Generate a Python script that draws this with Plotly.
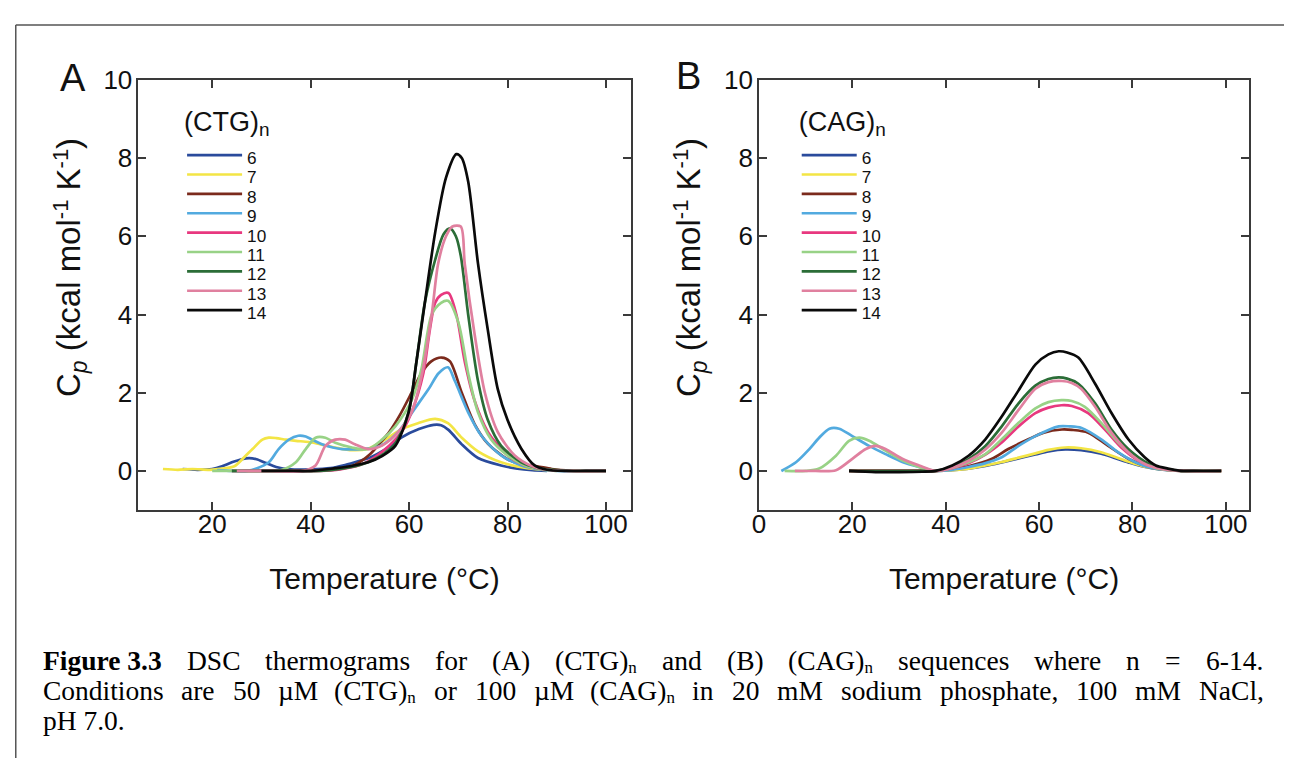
import plotly.graph_objects as go

SANS = "Liberation Sans, Arial, Helvetica, sans-serif"
SERIF = "Liberation Serif, Times New Roman, serif"

PAGE_W, PAGE_H = 1292, 758
OFF = 8                      # default page margin of the html body
W, H = PAGE_W - OFF, PAGE_H - OFF

# ---------------- data ----------------
repeat_n = ["6", "7", "8", "9", "10", "11", "12", "13", "14"]
line_colors = ["#2a4b9c", "#f3e545", "#7b2a1c", "#52aadf", "#e8387f",
               "#98d286", "#2b6d37", "#e0809f", "#0a0a0a"]

# Panel A: (CTG)n, temperature (°C) and Cp (kcal mol-1 K-1)
ctg6_T = [14, 17, 20, 22, 24, 26, 27.5, 29, 31, 33, 36, 40, 44, 47, 50, 52, 55, 58.5, 62, 65, 66.5, 68, 70.7, 74, 78.7, 82, 85, 88]
ctg6_cp = [0.05, 0.03, 0.05, 0.12, 0.22, 0.3, 0.33, 0.3, 0.2, 0.1, 0.04, 0.04, 0.07, 0.15, 0.26, 0.34, 0.54, 0.86, 1.07, 1.18, 1.17, 1.05, 0.68, 0.33, 0.14, 0.06, 0.02, 0.0]
ctg7_T = [10, 13, 16, 19.5, 22, 24.5, 26.5, 28.2, 30.2, 31.5, 33, 35, 37, 39.6, 42, 45, 48.4, 51.7, 55.1, 58.5, 61.8, 65.3, 67.9, 70.7, 74, 78.7, 84, 90]
ctg7_cp = [0.05, 0.03, 0.05, 0.03, 0.06, 0.12, 0.35, 0.56, 0.8, 0.85, 0.84, 0.8, 0.77, 0.74, 0.68, 0.6, 0.53, 0.57, 0.8, 1.07, 1.22, 1.33, 1.22, 0.85, 0.5, 0.22, 0.07, 0.0]
ctg8_T = [24, 30, 36, 42, 46, 49, 52, 54, 56, 58, 60.5, 62.5, 64.5, 66.6, 68.3, 70.7, 73.3, 76, 80, 83, 86, 89, 93, 100]
ctg8_cp = [0.0, 0.0, 0.0, 0.02, 0.06, 0.16, 0.42, 0.7, 1.0, 1.4, 2.0, 2.5, 2.8, 2.9, 2.8, 2.0, 1.2, 0.7, 0.3, 0.17, 0.12, 0.05, 0.01, 0.0]
ctg9_T = [21, 24, 27, 29, 31.5, 33.5, 35.6, 37.5, 39, 40.3, 42.3, 44.5, 46.4, 50.4, 53.1, 55, 57.8, 61.2, 64, 66, 67.9, 69.3, 72, 74.7, 78.7, 82.8, 86, 90, 95, 100]
ctg9_cp = [0.02, 0.0, 0.0, 0.06, 0.22, 0.56, 0.8, 0.9, 0.88, 0.8, 0.68, 0.6, 0.56, 0.56, 0.6, 0.7, 1.0, 1.6, 2.1, 2.5, 2.65, 2.3, 1.5, 0.9, 0.4, 0.14, 0.05, 0.0, 0.0, 0.0]
ctg10_T = [24, 30, 36, 42, 46, 50, 53, 56, 58.5, 60.5, 62.9, 64.2, 65.3, 66.5, 68, 69.6, 71.3, 73.3, 76, 80, 84, 88, 93, 100]
ctg10_cp = [0.0, 0.0, 0.0, 0.0, 0.04, 0.15, 0.35, 0.65, 1.0, 1.5, 2.5, 3.6, 4.3, 4.5, 4.55, 4.0, 2.8, 1.8, 1.0, 0.4, 0.12, 0.03, 0.0, 0.0]
ctg11_T = [20, 26, 31, 34, 37, 39, 41, 43, 45, 48.4, 51.7, 54.5, 57.2, 60.5, 62.5, 64.6, 66.5, 67.9, 70, 72, 74, 76.7, 80, 84, 88, 93, 100]
ctg11_cp = [0.0, 0.0, 0.0, 0.02, 0.22, 0.56, 0.85, 0.85, 0.72, 0.6, 0.56, 0.8, 1.14, 1.8, 2.6, 4.0, 4.3, 4.35, 3.8, 2.5, 1.5, 0.8, 0.4, 0.12, 0.03, 0.0, 0.0]
ctg12_T = [24, 30, 36, 42, 46, 50, 53, 55, 57.2, 59.9, 61.5, 63.2, 65.3, 67, 68.3, 69.5, 70.5, 72, 74, 76, 78.7, 82.8, 86, 90, 95, 100]
ctg12_cp = [0.0, 0.0, 0.0, 0.0, 0.05, 0.15, 0.3, 0.45, 0.7, 1.5, 2.8, 4.3, 5.4, 6.05, 6.2, 6.0, 5.5, 4.0, 2.3, 1.3, 0.64, 0.22, 0.08, 0.02, 0.0, 0.0]
ctg13_T = [25, 32, 38.3, 41, 43, 45, 47, 49, 51.7, 54.5, 57.8, 60.5, 62.5, 64.6, 65.9, 67.5, 68.8, 70.5, 71.3, 73.3, 75.4, 78, 81.4, 85, 88, 93, 100]
ctg13_cp = [0.0, 0.0, 0.0, 0.14, 0.64, 0.8, 0.8, 0.68, 0.56, 0.65, 1.0, 1.5, 2.4, 4.0, 5.3, 6.0, 6.25, 6.25, 5.3, 3.5, 2.0, 1.0, 0.4, 0.12, 0.03, 0.0, 0.0]
ctg14_T = [30, 35, 40, 45, 48, 51.7, 54.5, 57.2, 59.9, 61.5, 63.2, 65.3, 67.5, 69.6, 70.7, 72, 74, 76, 78, 80, 82.8, 85.5, 88, 92, 96, 100]
ctg14_cp = [0.0, 0.0, 0.0, 0.07, 0.12, 0.22, 0.38, 0.64, 1.5, 2.8, 4.3, 6.1, 7.5, 8.1, 8.0, 7.4, 5.3, 3.6, 2.1, 1.3, 0.57, 0.14, 0.03, 0.0, 0.0, 0.0]

# Panel B: (CAG)n
cag6_T = [19.3, 25, 30, 35, 38, 41.4, 44.9, 48.5, 52, 55.6, 59.2, 62, 65.6, 69, 73.3, 76, 79.1, 82, 84.8, 88, 92, 96, 99]
cag6_cp = [0.0, 0.0, 0.0, 0.0, 0.0, 0.02, 0.06, 0.13, 0.22, 0.32, 0.42, 0.5, 0.55, 0.53, 0.44, 0.34, 0.22, 0.12, 0.06, 0.02, 0.0, 0.0, 0.0]
cag7_T = [19.3, 25, 30, 35, 38, 41.4, 44.9, 48.5, 52, 55.6, 59.2, 62, 65.6, 69, 73.3, 76, 79.1, 82, 84.8, 88, 92, 96, 99]
cag7_cp = [0.0, 0.0, 0.0, 0.0, 0.0, 0.02, 0.06, 0.14, 0.23, 0.34, 0.45, 0.54, 0.6, 0.58, 0.48, 0.37, 0.24, 0.13, 0.06, 0.02, 0.0, 0.0, 0.0]
cag8_T = [19.3, 25, 30, 35, 38, 41.4, 44.9, 49.9, 53.4, 57.7, 61, 64.9, 67, 70.5, 74.8, 79.1, 83.4, 87, 90, 95, 99]
cag8_cp = [0.0, 0.0, 0.0, 0.0, 0.0, 0.05, 0.12, 0.31, 0.56, 0.81, 0.98, 1.06, 1.05, 0.98, 0.64, 0.31, 0.1, 0.03, 0.0, 0.0, 0.0]
cag9_T = [4.8, 8, 10.8, 12.9, 15.1, 17.2, 20, 23.6, 27.1, 30.7, 34.3, 37.8, 41.4, 44.9, 48.5, 52, 55.6, 59.2, 64.2, 66.5, 69.1, 73.3, 76.9, 80.5, 84, 88, 92, 98]
cag9_cp = [0.0, 0.23, 0.56, 0.85, 1.08, 1.08, 0.89, 0.64, 0.43, 0.23, 0.1, 0.0, 0.03, 0.1, 0.2, 0.35, 0.64, 0.89, 1.14, 1.14, 1.1, 0.81, 0.48, 0.23, 0.08, 0.02, 0.0, 0.0]
cag10_T = [19.3, 25, 30, 35, 38, 41.4, 44.9, 48.5, 52, 55.6, 59.2, 62, 64.8, 67, 70.5, 74.1, 77.6, 81.2, 84.8, 88, 92, 99]
cag10_cp = [0.0, 0.0, 0.0, 0.0, 0.0, 0.07, 0.2, 0.42, 0.73, 1.14, 1.48, 1.62, 1.68, 1.66, 1.48, 1.06, 0.6, 0.27, 0.08, 0.02, 0.0, 0.0]
cag11_T = [5.5, 10, 12.9, 16.5, 19.3, 21.5, 23.6, 27.1, 30.7, 34.3, 37.8, 41.4, 44.9, 48.5, 52, 55.6, 59.2, 62, 64.8, 67, 69.8, 73.3, 76.9, 80.5, 84.8, 88, 92, 99]
cag11_cp = [0.0, 0.0, 0.06, 0.39, 0.77, 0.85, 0.77, 0.52, 0.27, 0.1, 0.0, 0.08, 0.22, 0.43, 0.81, 1.23, 1.6, 1.76, 1.81, 1.79, 1.64, 1.23, 0.73, 0.35, 0.08, 0.02, 0.0, 0.0]
cag12_T = [19.3, 25, 30, 35, 38, 41.4, 44.9, 48.5, 52, 55.6, 59.2, 62, 64.2, 66, 68.4, 72, 75.5, 79.1, 83.4, 87, 90, 95, 99]
cag12_cp = [0.0, 0.0, 0.0, 0.0, 0.0, 0.1, 0.3, 0.64, 1.14, 1.73, 2.18, 2.35, 2.39, 2.36, 2.23, 1.73, 1.06, 0.56, 0.19, 0.05, 0.01, 0.0, 0.0]
cag13_T = [7.7, 12, 16.5, 20, 22.9, 25, 27.1, 30.7, 34.3, 37.8, 41.4, 44.9, 48.5, 52, 55.6, 59.2, 62, 64.9, 67, 69, 72, 75.5, 79.1, 83, 87, 92, 99]
cag13_cp = [0.0, 0.0, 0.02, 0.31, 0.56, 0.64, 0.56, 0.31, 0.14, 0.0, 0.08, 0.26, 0.55, 0.98, 1.56, 2.1, 2.27, 2.3, 2.25, 2.1, 1.64, 0.98, 0.48, 0.16, 0.04, 0.0, 0.0]
cag14_T = [19.3, 25, 30, 35, 37.8, 41.4, 44.9, 48.5, 52, 55.6, 59.2, 62, 64.2, 66, 68.4, 72, 75.5, 79.1, 82.6, 85, 87.6, 90, 93, 99]
cag14_cp = [0.0, -0.03, -0.03, -0.02, 0.0, 0.14, 0.39, 0.81, 1.39, 2.06, 2.72, 2.98, 3.06, 3.03, 2.9, 2.23, 1.48, 0.81, 0.35, 0.14, 0.06, 0.01, 0.0, 0.0]

ctg_T = [ctg6_T, ctg7_T, ctg8_T, ctg9_T, ctg10_T, ctg11_T, ctg12_T, ctg13_T, ctg14_T]
ctg_cp = [ctg6_cp, ctg7_cp, ctg8_cp, ctg9_cp, ctg10_cp, ctg11_cp, ctg12_cp, ctg13_cp, ctg14_cp]
cag_T = [cag6_T, cag7_T, cag8_T, cag9_T, cag10_T, cag11_T, cag12_T, cag13_T, cag14_T]
cag_cp = [cag6_cp, cag7_cp, cag8_cp, cag9_cp, cag10_cp, cag11_cp, cag12_cp, cag13_cp, cag14_cp]

x_ticks_A = [20, 40, 60, 80, 100]
x_ticks_B = [0, 20, 40, 60, 80, 100]
y_ticks = [0, 2, 4, 6, 8, 10]

# caption words: (text, subscript) pairs
caption_line1 = [("Figure 3.3", ""), ("DSC", ""), ("thermograms", ""), ("for", ""), ("(A)", ""), ("(CTG)", "n"),
                 ("and", ""), ("(B)", ""), ("(CAG)", "n"), ("sequences", ""), ("where", ""), ("n", ""), ("=", ""),
                 ("6-14.", "")]
caption_line2 = [("Conditions", ""), ("are", ""), ("50", ""), ("µM", ""), ("(CTG)", "n"), ("or", ""), ("100", ""),
                 ("µM", ""), ("(CAG)", "n"), ("in", ""), ("20", ""), ("mM", ""), ("sodium", ""), ("phosphate,", ""),
                 ("100", ""), ("mM", ""), ("NaCl,", "")]
caption_line3 = "pH 7.0."

# ---------------- helpers ----------------
def px(x):
    return (x - OFF) / W

def py(y):
    return (H - (y - OFF)) / H

def span(text, size, shift=0, italic=False):
    style = "font-size:%gpx" % size
    if shift:
        style += ";baseline-shift:%gpx" % shift
    if italic:
        style += ";font-style:italic"
    return '<span style="%s">%s</span>' % (style, text)

fig = go.Figure()

LABEL_SIZE = 17.2
for i, n in enumerate(repeat_n):
    fig.add_trace(go.Scatter(
        x=ctg_T[i], y=ctg_cp[i], mode="lines", xaxis="x", yaxis="y",
        line=dict(color=line_colors[i], width=2.7, shape="spline", smoothing=0.8),
        name=span(n, LABEL_SIZE, -3.5), legend="legend", showlegend=True))
for i, n in enumerate(repeat_n):
    fig.add_trace(go.Scatter(
        x=cag_T[i], y=cag_cp[i], mode="lines", xaxis="x2", yaxis="y2",
        line=dict(color=line_colors[i], width=2.7, shape="spline", smoothing=0.8),
        name=span(n, LABEL_SIZE, -3.5), legend="legend2", showlegend=True))

axis_common = dict(showline=True, linecolor="#3a3a3a", linewidth=1.6, mirror="ticks",
                   ticks="inside", ticklen=8, tickwidth=1.5, tickcolor="#3a3a3a",
                   showgrid=False, zeroline=False,
                   tickfont=dict(family=SANS, size=26, color="#111"))

# leading zero-width + no-break spaces lift the visible title a little above the axis centre
ytitle = ("\u200b" + "\u00a0" * 6 + "C" + span("p", 23, -7, italic=True) + " (kcal mol" +
          span("-1", 22, 12) + " K" + span("-1", 22, 12) + ")")
ydom = [py(505), py(66)]
xtitle = dict(text="Temperature (°C)", font=dict(size=30), standoff=30)
ytitle_d = dict(text=ytitle, font=dict(size=33), standoff=13)

legend_common = dict(xanchor="left", yanchor="top", bgcolor="rgba(0,0,0,0)",
                     font=dict(family=SANS, size=12.6, color="#111"), itemwidth=55, tracegroupgap=0)

fig.update_layout(
    width=W, height=H, margin=dict(l=0, r=0, t=0, b=0),
    paper_bgcolor="white", plot_bgcolor="white",
    font=dict(family=SANS, color="#111"),
    xaxis=dict(domain=[px(132), px(627)], range=[5, 105], tickvals=x_ticks_A, anchor="y",
               ticklabelstandoff=-10, title=xtitle, **axis_common),
    yaxis=dict(domain=ydom, range=[-1, 10], tickvals=y_ticks, anchor="x", ticklabelstandoff=-1,
               title=ytitle_d, **axis_common),
    xaxis2=dict(domain=[px(756), px(1249)], range=[0, 105], tickvals=x_ticks_B, anchor="y2",
                ticklabelstandoff=-10, title=xtitle, **axis_common),
    yaxis2=dict(domain=ydom, range=[-1, 10], tickvals=y_ticks, anchor="x2", ticklabelstandoff=-1,
                title=ytitle_d, **axis_common),
    legend=dict(x=px(176), y=py(92),
                title=dict(text=span("(CTG)", 27, 9) + span("n", 19, 4), font=dict(family=SANS, size=27)),
                **legend_common),
    legend2=dict(x=px(794), y=py(92),
                 title=dict(text=span("(CAG)", 27, 9) + span("n", 19, 4), font=dict(family=SANS, size=27)),
                 **legend_common),
    showlegend=True,
)

# panel letters
fig.add_annotation(text="A", x=px(66), y=py(64), xref="paper", yref="paper", showarrow=False,
                   xanchor="center", yanchor="middle", font=dict(family=SANS, size=38, color="#111"))
fig.add_annotation(text="B", x=px(685), y=py(62), xref="paper", yref="paper", showarrow=False,
                   xanchor="center", yanchor="middle", font=dict(family=SANS, size=38, color="#111"))

# outer frame (top and left rules)
fig.add_shape(type="line", xref="paper", yref="paper", x0=0.0006, x1=1, y0=py(10), y1=py(10),
              line=dict(color="#555", width=1.5))
fig.add_shape(type="line", xref="paper", yref="paper", x0=0.0006, x1=0.0006, y0=py(10), y1=0,
              line=dict(color="#555", width=1.5))

# ---------------- caption (justified) ----------------
TIMES = {' ': 250, '(': 333, ')': 333, ',': 250, '-': 333, '.': 250, '=': 564, 'µ': 500,
         'A': 722, 'B': 667, 'C': 667, 'D': 722, 'F': 556, 'G': 722, 'H': 722, 'M': 889, 'N': 722,
         'S': 556, 'T': 611, 'a': 444, 'c': 444, 'd': 500, 'e': 444, 'f': 333, 'g': 500, 'h': 500,
         'i': 278, 'l': 278, 'm': 778, 'n': 500, 'o': 500, 'p': 500, 'q': 500, 'r': 333, 's': 389,
         't': 278, 'u': 500, 'w': 722, 'y': 500}
TIMES_B = {'F': 611, 'i': 278, 'g': 500, 'u': 556, 'r': 444, 'e': 444, ' ': 250, '.': 250}

CAP_SIZE = 27.5
SUB_SIZE = 17
cap_left, cap_right = 35, 1262

def word_width(text, sub, bold):
    table = dict(TIMES)
    if bold:
        table.update(TIMES_B)
    w = sum(table.get(c, 500) for c in text) * CAP_SIZE / 1000
    w += sum(TIMES.get(c, 500) for c in sub) * SUB_SIZE / 1000
    return w

def add_justified(words, ypix):
    widths = [word_width(t, s, k == 0 and t.startswith("Figure")) for k, (t, s) in enumerate(words)]
    gap = (cap_right - cap_left - sum(widths)) / (len(words) - 1)
    xcur = cap_left
    for k, ((t, s), wdt) in enumerate(zip(words, widths)):
        bold = k == 0 and t.startswith("Figure")
        html = t + (span(s, SUB_SIZE, -2.5) if s else "")
        fig.add_annotation(text=html, x=px(xcur), y=py(ypix), xref="paper", yref="paper",
                           xanchor="left", yanchor="middle", showarrow=False, borderpad=0,
                           font=dict(family=SERIF, size=CAP_SIZE, color="#000",
                                     weight="bold" if bold else "normal"))
        xcur += wdt + gap

add_justified(caption_line1, 659)
add_justified(caption_line2, 689.6)
fig.add_annotation(text=caption_line3, x=px(cap_left), y=py(720.2), xref="paper", yref="paper",
                   xanchor="left", yanchor="middle", showarrow=False, borderpad=0,
                   font=dict(family=SERIF, size=CAP_SIZE, color="#000"))

fig.write_html("out.html", config={"displayModeBar": False})
